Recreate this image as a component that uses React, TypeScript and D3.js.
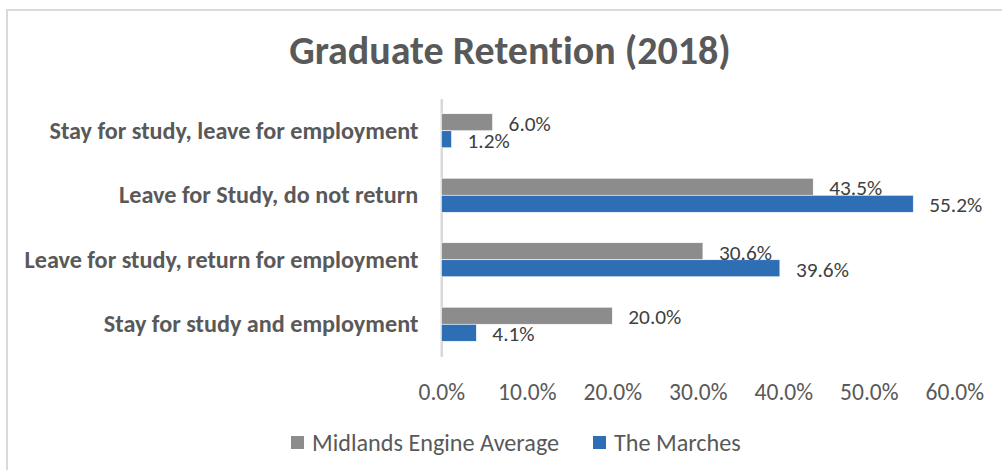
import * as d3 from 'd3';
import { useEffect, useRef } from 'react';

// categories top to bottom, as in the picture
const categories = [
    'Stay for study, leave for employment',
    'Leave for Study, do not return',
    'Leave for study, return for employment',
    'Stay for study and employment'
];
const seriesNames = ['Midlands Engine Average', 'The Marches'];
const midlandsValues = [0.060, 0.435, 0.306, 0.200];
const marchesValues = [0.012, 0.552, 0.396, 0.041];
const xTicks = [0, 0.1, 0.2, 0.3, 0.4, 0.5, 0.6];
const colors = ['#8c8c8c', '#2e6eb5'];

const FONT = 'Calibri, Carlito, Lato, sans-serif';
const TEXT = '#595959';

function App() {
    const ref = useRef<SVGSVGElement | null>(null);

    useEffect(() => {
        const width = 1002, height = 470;
        const svg = d3.select(ref.current);
        svg.selectAll('*').remove();
        svg.style('font-variant-ligatures', 'none');

        svg.append('rect').attr('width', width).attr('height', height).attr('fill', '#fff');
        // chart frame (right / bottom run off the picture)
        svg.append('rect')
            .attr('x', 7).attr('y', 10)
            .attr('width', 1020).attr('height', 490)
            .attr('fill', 'none')
            .attr('stroke', '#d9d9d9')
            .attr('stroke-width', 2);

        svg.append('text')
            .attr('x', 510).attr('y', 64)
            .attr('text-anchor', 'middle')
            .style('font-family', FONT)
            .style('font-weight', 'bold')
            .style('font-size', '40px')
            .style('fill', TEXT)
            .text('Graduate Retention (2018)');

        const x = d3.scaleLinear().domain([0, 0.6]).range([441.3, 954.3]);
        const y = d3.scaleBand<string>()
            .domain(categories)
            .range([98.5, 356.5])
            .paddingInner(0.472)
            .paddingOuter(0.236);
        const ySub = d3.scaleBand<number>()
            .domain([0, 1])
            .range([0, y.bandwidth()]);

        const data = categories.map((c, i) => ({
            category: c,
            values: [midlandsValues[i], marchesValues[i]]
        }));

        // category axis
        const yAxis = svg.append('g')
            .attr('transform', 'translate(' + x(0) + ',0)')
            .call(d3.axisLeft(y).tickSize(0).tickSizeOuter(0).tickPadding(23));
        yAxis.select('.domain').attr('stroke', '#d9d9d9').attr('stroke-width', 2.6);
        yAxis.selectAll('text')
            .style('font-family', FONT)
            .style('font-weight', 'bold')
            .style('font-size', '24.2px')
            .style('fill', TEXT);

        // value axis
        const xAxis = svg.append('g')
            .attr('transform', 'translate(0,357)')
            .call(d3.axisBottom(x).tickValues(xTicks).tickFormat(d3.format('.1%')).tickSize(0).tickPadding(26));
        xAxis.select('.domain').remove();
        xAxis.selectAll('text')
            .style('font-family', FONT)
            .style('font-size', '23.5px')
            .style('fill', TEXT);

        const groups = svg.append('g')
            .selectAll('g')
            .data(data)
            .enter()
            .append('g')
            .attr('transform', function (d) { return 'translate(0,' + y(d.category) + ')'; });

        groups.selectAll('rect')
            .data(function (d) { return d.values.map((v, j) => ({ v, j })); })
            .enter()
            .append('rect')
            .attr('x', x(0))
            .attr('y', function (d) { return ySub(d.j)!; })
            .attr('width', function (d) { return x(d.v) - x(0); })
            .attr('height', ySub.bandwidth())
            .attr('fill', function (d) { return colors[d.j]; })
            .attr('stroke', '#fff')
            .attr('stroke-width', 0.6);

        groups.selectAll('text')
            .data(function (d) { return d.values.map((v, j) => ({ v, j })); })
            .enter()
            .append('text')
            .attr('x', function (d) { return x(d.v) + 16; })
            .attr('y', function (d) { return ySub(d.j)! + ySub.bandwidth() / 2 + 1; })
            .attr('dy', '0.35em')
            .style('font-family', FONT)
            .style('font-size', '21.3px')
            .style('fill', '#404040')
            .text(function (d) { return d3.format('.1%')(d.v); });

        // legend
        const legendX = [291, 593];
        const legend = svg.append('g')
            .selectAll('g')
            .data(seriesNames)
            .enter()
            .append('g')
            .attr('transform', function (d, i) { return 'translate(' + legendX[i] + ',436)'; });
        legend.append('rect')
            .attr('width', 13).attr('height', 13)
            .attr('fill', function (d, i) { return colors[i]; });
        legend.append('text')
            .attr('x', 21).attr('y', 6.5)
            .attr('dy', '0.35em')
            .style('font-family', FONT)
            .style('font-size', '24.2px')
            .style('fill', TEXT)
            .text(function (d) { return d; });
    }, []);

    return (
        <div style={{ position: 'absolute', left: 0, top: 0 }}>
            <svg ref={ref} width={1002} height={470} style={{ display: 'block' }}></svg>
        </div>
    );
}

export default App;
